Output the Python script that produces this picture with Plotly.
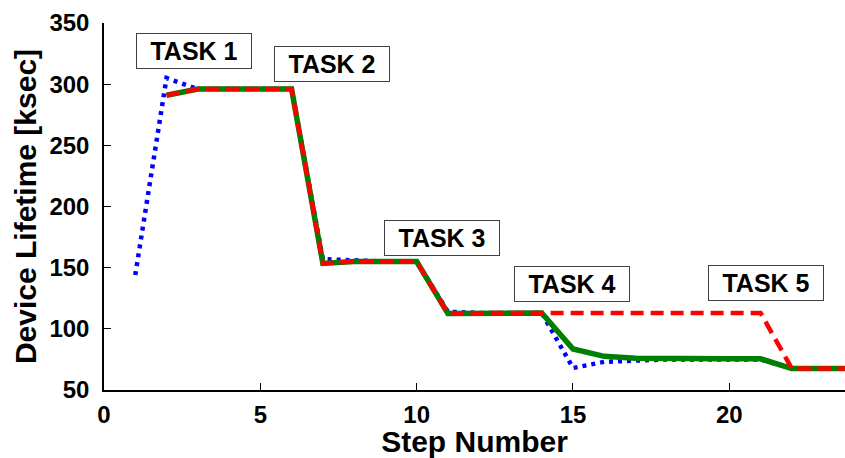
import plotly.graph_objects as go

steps = list(range(1, 25))
blue = [144, 305, 296, 296, 296, 296, 157, 156, 155, 155, 114, 113, 113, 113, 68, 73, 74, 75, 75, 75, 75, 67.5, 67.5, 67.5]
green_x = list(range(2, 25))
green = [291, 296, 296, 296, 296, 153.5, 155, 155, 155, 112.5, 113, 113, 113, 83.5, 77.5, 76, 75.5, 75.5, 75.5, 75.5, 67.5, 67.5, 67.5]
red = [291, 296, 296, 296, 296, 153.5, 155, 155, 155, 112.5, 113, 113, 113, 113, 113, 113, 113, 113, 113, 113, 67.5, 67.5, 67.5]

task_labels = ["TASK 1", "TASK 2", "TASK 3", "TASK 4", "TASK 5"]
task_x = [2.89, 7.29, 10.81, 14.96, 21.18]
task_y = [327, 316.5, 174, 137, 137.5]

FONT = "Liberation Sans, Arial, sans-serif"

fig = go.Figure()
fig.add_trace(go.Scatter(x=steps, y=blue, mode="lines",
                         line=dict(color="#0000ff", width=4.5, dash="4px,5px")))
fig.add_trace(go.Scatter(x=green_x, y=green, mode="lines",
                         line=dict(color="#008000", width=5.5)))
fig.add_trace(go.Scatter(x=green_x, y=red, mode="lines",
                         line=dict(color="#ff0000", width=4.5, dash="13px,7px")))

for t, x, y in zip(task_labels, task_x, task_y):
    fig.add_annotation(x=x, y=y, text="<b>" + t + "</b>", showarrow=False,
                       font=dict(family=FONT, size=25, color="black"),
                       bgcolor="white", bordercolor="#404040", borderwidth=1,
                       borderpad=3, width=108, height=28)

fig.update_layout(
    width=845, height=458,
    margin=dict(l=104, r=0, t=23, b=68),
    paper_bgcolor="white", plot_bgcolor="white",
    showlegend=False,
    font=dict(family=FONT, color="black"),
    xaxis=dict(range=[0, 23.7], tickvals=[0, 5, 10, 15, 20],
               ticktext=["<b>0</b>", "<b>5</b>", "<b>10</b>", "<b>15</b>", "<b>20</b>"],
               ticks="inside", ticklen=7, tickcolor="black", tickwidth=1,
               showline=True, linecolor="black", linewidth=1.5, showgrid=False,
               zeroline=False, tickfont=dict(size=24), ticklabelstandoff=2,
               title=dict(text="<b>Step Number</b>", font=dict(size=30), standoff=0)),
    yaxis=dict(range=[50, 350], tickvals=[50, 100, 150, 200, 250, 300, 350],
               ticktext=["<b>%d</b>" % v for v in [50, 100, 150, 200, 250, 300, 350]],
               ticks="inside", ticklen=7, tickcolor="black", tickwidth=1,
               showline=True, linecolor="black", linewidth=1.5, showgrid=False,
               zeroline=False, tickfont=dict(size=24), ticklabelstandoff=8,
               title=dict(text="<b>Device Lifetime [ksec]</b>", font=dict(size=30), standoff=4)),
)

fig.write_html("out.html")
